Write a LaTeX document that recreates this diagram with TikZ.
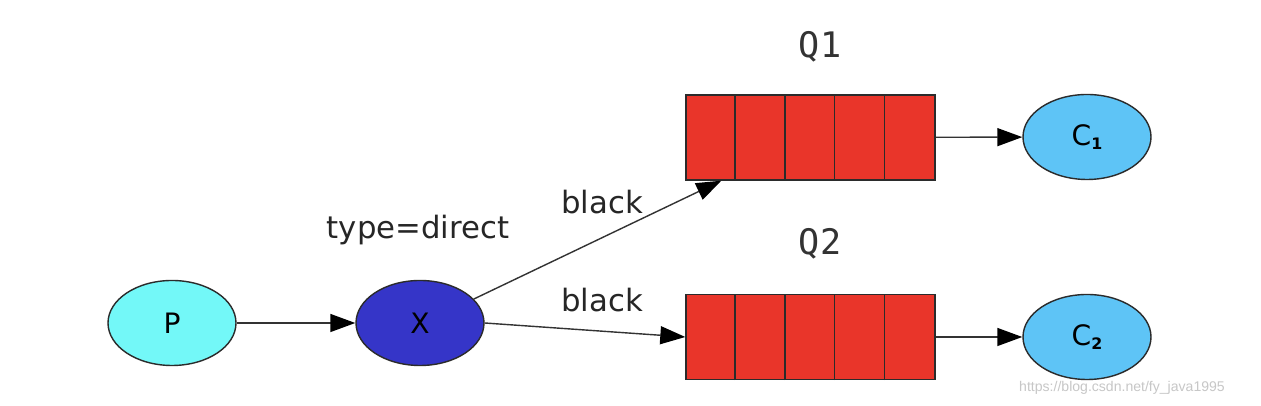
\documentclass[tikz,border=0pt]{standalone}
\usepackage{fontspec}
\setmainfont{DejaVu Sans}
\newfontfamily\monofont{DejaVu Sans Mono}
\newfontfamily\markfont{Liberation Sans}
\usetikzlibrary{arrows.meta, positioning, calc, shapes.geometric}
\definecolor{pcyan}{HTML}{73F8F8}
\definecolor{xblue}{HTML}{3535C8}
\definecolor{qred}{HTML}{E9352A}
\definecolor{csky}{HTML}{5EC4F6}
\definecolor{edgegray}{HTML}{2B2B2B}

\begin{document}
\begin{tikzpicture}[
    ell/.style={ellipse, draw=edgegray, line width=0.8pt, minimum width=2.56cm, minimum height=1.7cm, inner sep=0pt, font=\fontsize{16}{18}\selectfont},
    queue/.style={rectangle, draw=edgegray, line width=0.8pt, fill=qred, minimum width=4.98cm, minimum height=1.7cm, inner sep=0pt},
    qlabel/.style={font=\monofont\fontsize{20}{22}\selectfont, text=black!80},
    key/.style={font=\fontsize{17.5}{20}\selectfont, text=black!85},
    link/.style={draw=black!80, line width=0.8pt, -{Triangle[length=0.5cm, width=0.36cm, color=black]}}
  ]
  \useasboundingbox (0,0) rectangle (25.22,8.12);
  \fill[white] (0,0) rectangle (25.22,8.12);

  % producer and exchange
  \node[ell, fill=pcyan] (p) at (3.44,1.66) {P};
  \node[ell, fill=xblue] (x) at (8.4,1.66) {X};
  \node[key] (xtype) at (8.36,3.52) {type=direct};

  % queues
  \node[queue] (q1) at (16.21,5.37) {};
  \node[queue] (q2) at (16.21,1.38) {};
  \foreach \q in {q1,q2}
    \foreach \i in {1,...,4}
      \draw[edgegray, line width=0.8pt] ($(\q.south west)+(\i*0.996,0)$) -- ($(\q.north west)+(\i*0.996,0)$);
  \node[qlabel] (q1name) at (16.4,7.18) {Q1};
  \node[qlabel] (q2name) at (16.4,3.24) {Q2};

  % consumers
  \node[ell, fill=csky] (c1) at (21.74,5.38) {C\raisebox{-0.3ex}{\fontsize{9}{10}\selectfont\bfseries 1}};
  \node[ell, fill=csky] (c2) at (21.74,1.38) {C\raisebox{-0.3ex}{\fontsize{9}{10}\selectfont\bfseries 2}};

  % bindings
  \coordinate (q1in) at ($(q1.south west)+(0.72,0)$);
  \draw[link] (p) -- (x);
  \draw[link] (x.24) -- (q1in);
  \draw[link] (x.east) -- (q2.west);
  \draw[link] (q1) -- (c1);
  \draw[link] (q2) -- (c2);
  \node[key] (k1) at (12.04,4.08) {black};
  \node[key] (k2) at (12.04,2.12) {black};

  \node[font=\markfont\fontsize{8}{10}\selectfont, text=black!22] (mark) at (22.44,0.36) {https://blog.csdn.net/fy\_java1995};
\end{tikzpicture}
\end{document}
